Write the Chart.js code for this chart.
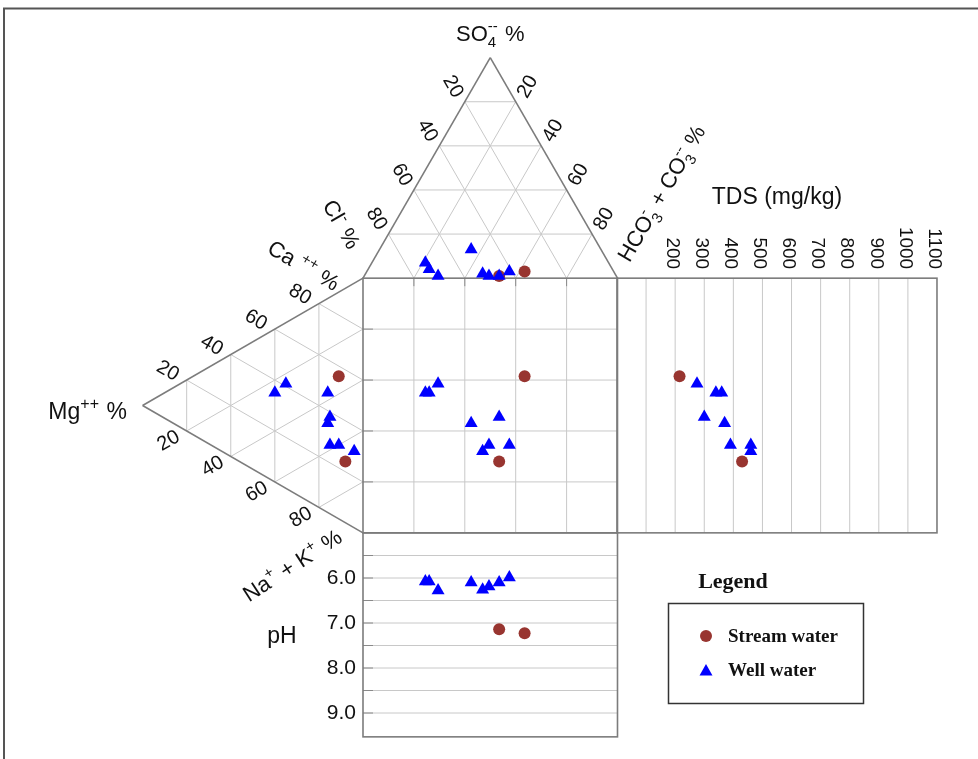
<!DOCTYPE html>
<html>
<head>
<meta charset="utf-8">
<script src="https://cdn.jsdelivr.net/npm/chart.js@4.4.0/dist/chart.umd.min.js"></script>
<style>
  html, body { margin: 0; padding: 0; background: #fff; }
  canvas { display: block; }
</style>
</head>
<body>
<canvas id="durov" width="978" height="759"></canvas>
<script>
// well water samples: anions %, cations %, TDS, pH
var wellCl   = [72, 72, 70, 51, 52, 50, 46, 41];
var wellSO4  = [7, 4, 1, 13, 2, 1, 1, 3];
var wellHCO3 = [21, 24, 29, 36, 46, 49, 53, 56];
var wellCa   = [35, 47, 41, 35, 30, 27, 38, 29];
var wellMg   = [40, 16, 35, 16, 4, 15, 15, 11];
var wellNaK  = [25, 37, 24, 49, 66, 58, 47, 60];
var wellTDS  = [340, 360, 275, 370, 460, 390, 300, 460];
var wellPH   = [6.08, 6.08, 6.28, 6.1, 6.26, 6.19, 6.1, 5.99];

// stream water samples
var streamCl   = [46, 35];
var streamSO4  = [1, 3];
var streamHCO3 = [53, 62];
var streamCa   = [24, 56];
var streamMg   = [8, 11];
var streamNaK  = [68, 33];
var streamTDS  = [430, 215];
var streamPH   = [7.14, 7.23];

// tick labels / grid steps
var ternTicks = [20, 40, 60, 80];
var tdsLines  = [100, 200, 300, 400, 500, 600, 700, 800, 900, 1000];
var tdsTicks  = [200, 300, 400, 500, 600, 700, 800, 900, 1000, 1100];
var phLines   = [5.5, 6, 6.5, 7, 7.5, 8, 8.5, 9];
var phTicks   = [6, 7, 8, 9];

var H = 86.6; // triangle height for side 100
var FONT = '"Liberation Sans", Arial, sans-serif';
var SERIF = '"Liberation Serif", "Times New Roman", serif';
var STREAM_COL = '#983530';
var WELL_COL = '#0000ff';

function anionX(cl, so4, hco3) {
  var t = cl + so4 + hco3;
  return (hco3 + so4 / 2) / t * 100;
}
function cationY(ca, mg, nak) {
  var t = ca + mg + nak;
  return (ca + mg / 2) / t * 100;
}

function diagramPoints(cl, so4, hco3, ca, mg, nak) {
  var pts = [];
  for (var i = 0; i < cl.length; i++) {
    var tA = cl[i] + so4[i] + hco3[i];
    var tC = ca[i] + mg[i] + nak[i];
    var ax = anionX(cl[i], so4[i], hco3[i]);
    var cy = cationY(ca[i], mg[i], nak[i]);
    pts.push({ x: ax, y: 100 + so4[i] / tA * H });       // top triangle
    pts.push({ x: -mg[i] / tC * H, y: cy });             // left triangle
    pts.push({ x: ax, y: cy });                          // central square
  }
  return pts;
}
function tdsPoints(tds, ca, mg, nak) {
  return tds.map(function (v, i) { return { x: v, y: cationY(ca[i], mg[i], nak[i]) }; });
}
function phPoints(ph, cl, so4, hco3) {
  return ph.map(function (v, i) { return { x: anionX(cl[i], so4[i], hco3[i]), y: v }; });
}

function richText(ctx, parts, cx, cy, deg, size) {
  var big = size + 'px ' + FONT;
  var small = Math.round(size * 0.68) + 'px ' + FONT;
  ctx.save();
  ctx.translate(cx, cy);
  ctx.rotate(deg * Math.PI / 180);
  ctx.fillStyle = '#111';
  ctx.textAlign = 'left';
  ctx.textBaseline = 'alphabetic';
  var widths = parts.map(function (p) {
    if (p[1] === 'n') { ctx.font = big; return ctx.measureText(p[0]).width; }
    ctx.font = small;
    var w = ctx.measureText(p[0]).width;
    if (p[1] === 'stack') w = Math.max(w, ctx.measureText(p[2]).width);
    return w + 1;
  });
  var total = widths.reduce(function (a, b) { return a + b; }, 0);
  var x = -total / 2, base = size * 0.36;
  parts.forEach(function (p, i) {
    if (p[1] === 'n') {
      ctx.font = big;
      ctx.fillText(p[0], x, base);
    } else {
      ctx.font = small;
      if (p[1] === 'sup') ctx.fillText(p[0], x, base - size * 0.42);
      if (p[1] === 'stack') ctx.fillText(p[2], x, base - size * 0.42);
      if (p[1] === 'sub' || p[1] === 'stack') ctx.fillText(p[0], x, base + size * 0.28);
    }
    x += widths[i];
  });
  ctx.restore();
}

function plainText(ctx, txt, x, y, deg, font, align) {
  ctx.save();
  ctx.translate(x, y);
  ctx.rotate(deg * Math.PI / 180);
  ctx.font = font;
  ctx.fillStyle = '#111';
  ctx.textAlign = align || 'center';
  ctx.textBaseline = 'middle';
  ctx.fillText(txt, 0, 0);
  ctx.restore();
}

var durovFrame = {
  id: 'durovFrame',
  beforeDatasetsDraw: function (chart) {
    var ctx = chart.ctx, s = chart.scales;
    function P(p) { return [s.x.getPixelForValue(p[0]), s.y.getPixelForValue(p[1])]; }
    function seg(a, b, col, w) {
      ctx.beginPath();
      ctx.moveTo(a[0], a[1]);
      ctx.lineTo(b[0], b[1]);
      ctx.strokeStyle = col;
      ctx.lineWidth = w;
      ctx.stroke();
    }
    function mix(a, b, f) { return [a[0] + (b[0] - a[0]) * f, a[1] + (b[1] - a[1]) * f]; }
    var GRID = '#c8c8c8', EDGE = '#7c7c7c', TICK = '#8a8a8a';

    // outer frame
    ctx.save();
    ctx.strokeStyle = '#555';
    ctx.lineWidth = 2;
    ctx.strokeRect(4, 8.5, 1100, 900);
    ctx.restore();

    var L = [0, 100], R = [100, 100], T = [50, 100 + H];
    var M = [-H, 50], C = [0, 100], N = [0, 0];

    function triGrid(A, B, Cc) {
      var vs = [A, B, Cc];
      for (var k = 0; k < 3; k++) {
        var a = vs[k], b = vs[(k + 1) % 3], c = vs[(k + 2) % 3];
        ternTicks.forEach(function (t) {
          seg(P(mix(a, b, t / 100)), P(mix(a, c, t / 100)), GRID, 1);
        });
      }
    }
    triGrid(L, R, T);
    triGrid(M, C, N);

    // square grid
    ternTicks.forEach(function (t) {
      seg(P([t, 0]), P([t, 100]), GRID, 1);
      seg(P([0, t]), P([100, t]), GRID, 1);
    });
    // TDS panel grid
    var x0 = s.xT.getPixelForValue(0), x1 = s.xT.getPixelForValue(1100);
    var yTop = s.y.getPixelForValue(100), yBot = s.y.getPixelForValue(0);
    tdsLines.forEach(function (v) {
      var px = s.xT.getPixelForValue(v);
      seg([px, yTop], [px, yBot], GRID, 1);
    });
    // pH panel grid
    var sx0 = s.x.getPixelForValue(0), sx1 = s.x.getPixelForValue(100);
    phLines.forEach(function (v) {
      var py = s.yP.getPixelForValue(v);
      seg([sx0, py], [sx1, py], GRID, 1);
      seg([sx0, py], [sx0 + 10, py], TICK, 1);
    });
    ternTicks.forEach(function (t) {
      var q = P([t, 100]);
      seg(q, [q[0], q[1] + 8], TICK, 1);
      var r = P([0, t]);
      seg(r, [r[0] + 10, r[1]], TICK, 1);
    });

    // outlines
    [[L, T], [T, R], [M, C], [M, N]].forEach(function (e) { seg(P(e[0]), P(e[1]), EDGE, 1.6); });
    ctx.strokeStyle = EDGE;
    ctx.lineWidth = 1.6;
    var sq0 = P([0, 100]);
    ctx.strokeRect(sq0[0], sq0[1], sx1 - sx0, yBot - yTop);
    ctx.strokeRect(x0, yTop, x1 - x0, yBot - yTop);
    var phBot = s.yP.getPixelForValue(9.53);
    ctx.strokeRect(sx0, yBot, sx1 - sx0, phBot - yBot);

    // ternary tick labels
    var numFont = '20px ' + FONT;
    ternTicks.forEach(function (t) {
      var f = t / 100, q;
      q = P(mix(T, L, f)); plainText(ctx, String(t), q[0] - 12, q[1] - 15, 60, numFont);
      q = P(mix(T, R, f)); plainText(ctx, String(t), q[0] + 12, q[1] - 15, -60, numFont);
      q = P(mix(M, C, f)); plainText(ctx, String(t), q[0] - 19, q[1] - 9, 30, numFont);
      q = P(mix(M, N, f)); plainText(ctx, String(t), q[0] - 18, q[1] + 10, -30, numFont);
    });
    // TDS tick labels
    tdsTicks.forEach(function (v) {
      plainText(ctx, String(v), s.xT.getPixelForValue(v) - 3, yTop - 9, 90, '19px ' + FONT, 'right');
    });
    // pH tick labels
    phTicks.forEach(function (v) {
      plainText(ctx, v.toFixed(1), sx0 - 7, s.yP.getPixelForValue(v), 0, '21px ' + FONT, 'right');
    });

    // axis titles
    var top = P(T), apexL = P(M);
    richText(ctx, [['SO', 'n'], ['4', 'stack', '--'], [' %', 'n']], top[0], top[1] - 25, 0, 22);
    richText(ctx, [['Cl', 'n'], ['-', 'sup'], [' %', 'n']], 342, 224, 60, 22);
    richText(ctx, [['Ca ', 'n'], ['++', 'sup'], [' %', 'n']], 304, 265, 30, 22);
    richText(ctx, [['Mg', 'n'], ['++', 'sup'], [' %', 'n']], apexL[0] - 55, apexL[1] + 5, 0, 23);
    richText(ctx, [['Na', 'n'], ['+', 'sup'], [' + K', 'n'], ['+', 'sup'], [' %', 'n']], 292, 565, -33, 22);
    richText(ctx, [['HCO', 'n'], ['3', 'stack', '-'], [' + CO', 'n'], ['3', 'stack', '--'], [' %', 'n']], 661, 193, -60, 22);
    plainText(ctx, 'TDS (mg/kg)', (x0 + x1) / 2 + 0, 198, 0, '23px ' + FONT);
    plainText(ctx, 'pH', 282, 637, 0, '23px ' + FONT);
  },
  afterDatasetsDraw: function (chart) {
    var ctx = chart.ctx;
    ctx.save();
    ctx.fillStyle = '#111';
    ctx.textBaseline = 'middle';
    ctx.textAlign = 'center';
    ctx.font = 'bold 22px ' + SERIF;
    ctx.fillText('Legend', 733, 582);
    ctx.strokeStyle = '#333';
    ctx.lineWidth = 1.5;
    ctx.strokeRect(668.5, 603.5, 195, 100);
    ctx.fillStyle = STREAM_COL;
    ctx.beginPath();
    ctx.arc(706, 636, 6, 0, Math.PI * 2);
    ctx.fill();
    ctx.fillStyle = WELL_COL;
    ctx.beginPath();
    ctx.moveTo(706, 664);
    ctx.lineTo(712.5, 675.5);
    ctx.lineTo(699.5, 675.5);
    ctx.closePath();
    ctx.fill();
    ctx.fillStyle = '#111';
    ctx.textAlign = 'left';
    ctx.font = 'bold 19px ' + SERIF;
    ctx.fillText('Stream water', 728, 637);
    ctx.fillText('Well water', 728, 671);
    ctx.restore();
  }
};

var wellStyle = { pointStyle: 'triangle', pointRadius: 7.5, backgroundColor: WELL_COL, borderColor: WELL_COL, borderWidth: 0 };
var streamStyle = { pointStyle: 'circle', pointRadius: 6, backgroundColor: STREAM_COL, borderColor: STREAM_COL, borderWidth: 0 };

function ds(label, data, style, xa, ya) {
  return Object.assign({ label: label, data: data, xAxisID: xa, yAxisID: ya }, style);
}

new Chart(document.getElementById('durov'), {
  type: 'scatter',
  data: {
    datasets: [
      ds('Well water', diagramPoints(wellCl, wellSO4, wellHCO3, wellCa, wellMg, wellNaK), wellStyle, 'x', 'y'),
      ds('Well water TDS', tdsPoints(wellTDS, wellCa, wellMg, wellNaK), wellStyle, 'xT', 'y'),
      ds('Well water pH', phPoints(wellPH, wellCl, wellSO4, wellHCO3), wellStyle, 'x', 'yP'),
      ds('Stream water', diagramPoints(streamCl, streamSO4, streamHCO3, streamCa, streamMg, streamNaK), streamStyle, 'x', 'y'),
      ds('Stream water TDS', tdsPoints(streamTDS, streamCa, streamMg, streamNaK), streamStyle, 'xT', 'y'),
      ds('Stream water pH', phPoints(streamPH, streamCl, streamSO4, streamHCO3), streamStyle, 'x', 'yP')
    ]
  },
  options: {
    responsive: false,
    animation: false,
    layout: { padding: 0, autoPadding: false },
    plugins: { legend: { display: false }, tooltip: { enabled: false } },
    scales: {
      x:  { type: 'linear', axis: 'x', display: false, min: -142.63, max: 241.65 },
      y:  { type: 'linear', axis: 'y', display: false, min: -88.80, max: 209.23 },
      xT: { type: 'linear', axis: 'x', display: false, min: -2120.9, max: 1241.0 },
      yP: { type: 'linear', axis: 'y', display: false, reverse: true, min: -6.8444, max: 10.0222 }
    }
  },
  plugins: [durovFrame]
});
</script>
</body>
</html>
